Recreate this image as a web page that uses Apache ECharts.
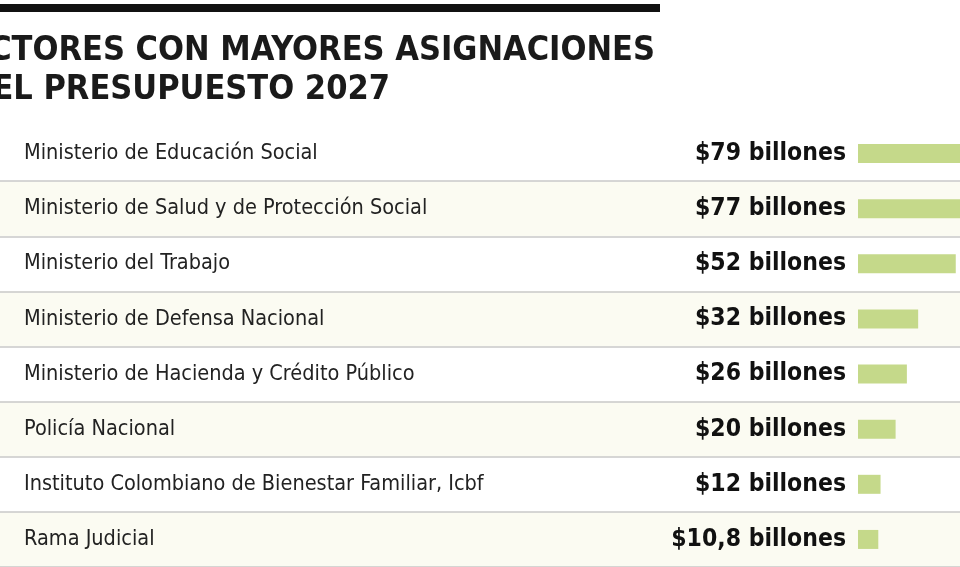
<!DOCTYPE html>
<html><head><meta charset="utf-8">
<script src="https://cdn.jsdelivr.net/npm/echarts@6/dist/echarts.min.js"></script>
<style>html,body{margin:0;padding:0;background:#fff}#c{width:960px;height:567px}</style>
</head><body><div id="c"></div>
<script>
const categories = ["Ministerio de Educación Social","Ministerio de Salud y de Protección Social","Ministerio del Trabajo","Ministerio de Defensa Nacional","Ministerio de Hacienda y Crédito Público","Policía Nacional","Instituto Colombiano de Bienestar Familiar, Icbf","Rama Judicial"];
const values = [79,77,52,32,26,20,12,10.8];
const valueLabels = ["$79 billones","$77 billones","$52 billones","$32 billones","$26 billones","$20 billones","$12 billones","$10,8 billones"];
const F = "'Liberation Sans Narrow','DejaVu Sans Condensed','Roboto',sans-serif";
const ppu = 1.88;
const chart = echarts.init(document.getElementById('c'));
chart.setOption({
  animation:false,
  grid:{left:0,right:0,top:126,height:446},
  xAxis:{type:'value',min:-858/ppu,max:(960-858)/ppu,show:false},
  yAxis:{type:'category',inverse:true,data:categories,
    axisLine:{show:false},axisTick:{show:false},
    axisLabel:{inside:true,margin:24,fontFamily:F,fontSize:21.5,color:'#222'},
    splitLine:{show:true,interval:(i)=>i>0,lineStyle:{color:'#c8c8c8',width:1.5}},
    splitArea:{show:true,areaStyle:{color:['#ffffff','#fbfbf2']}}},
  series:[{type:'bar',data:values,barWidth:19,itemStyle:{color:'#c5d98a'},
    label:{show:true,position:'left',distance:12,fontFamily:F,fontWeight:'bold',fontSize:24.5,color:'#111',
      formatter:p=>valueLabels[p.dataIndex]}}],
  graphic:[
    {type:'rect',shape:{x:0,y:4,width:660,height:8},style:{fill:'#111'}},
    {type:'text',right:305,top:34,style:{text:'SECTORES CON MAYORES ASIGNACIONES',fontFamily:F,fontWeight:'bold',fontSize:34,fill:'#1a1a1a',textAlign:'right'}},
    {type:'text',right:570,top:73,style:{text:'EN EL PRESUPUESTO 2027',fontFamily:F,fontWeight:'bold',fontSize:34,fill:'#1a1a1a',textAlign:'right'}}
  ]
});
</script></body></html>
